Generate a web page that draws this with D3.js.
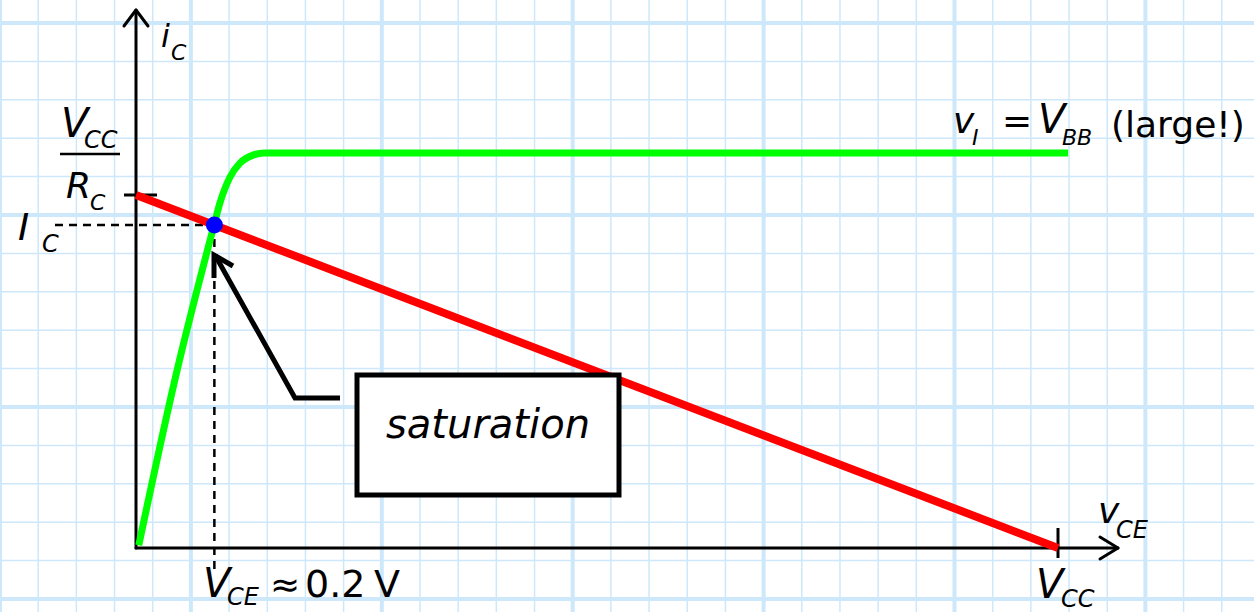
<!doctype html>
<html lang="en">
<head>
  <meta charset="utf-8">
  <title>Saturation on the load line</title>
  <style>
  body { margin: 0; background: #fff; }
  svg { display: block; }
  text {
    font-family: "Comic Sans MS", "DejaVu Sans", "Noto Sans", sans-serif;
    fill: #000;
  }
  .it { font-style: italic; }
  </style>
</head>
<body>
<div id="chart"></div>
<script src="https://cdn.jsdelivr.net/npm/d3@7"></script>
<script>

// ---------------- data (vCE in units of VCC, iC in units of VCC/RC)
var loadV = [0, 1];
var loadI = [1, 0];
var curveV = [0.003, 0.045, 0.085, 0.091, 0.102, 0.113, 0.127, 0.139, 1.011];
var curveI = [0.008, 0.508, 0.918, 0.977, 1.051, 1.091, 1.113, 1.119, 1.119];
var qV = 0.085;
var qI = 0.915;

// ---------------- svg
var width = 1254, height = 612;
var svg = d3.select("#chart").append("svg")
    .attr("width", width)
    .attr("height", height);

var x = d3.scaleLinear().domain([0, 1]).range([136, 1058]);
var y = d3.scaleLinear().domain([0, 1]).range([548, 195]);

// ---------------- graph paper
var grid = svg.append("g").attr("stroke", "#cde8fb");
var cx = 38.18, cy = 38.4, gy0 = 23;
d3.range(0, 34).forEach(function(k) {
  grid.append("line")
    .attr("x1", k * cx).attr("x2", k * cx)
    .attr("y1", 0).attr("y2", height)
    .attr("stroke-width", k % 5 == 0 ? 4 : 1.5);
});
d3.range(-1, 16).forEach(function(k) {
  grid.append("line")
    .attr("x1", 0).attr("x2", width)
    .attr("y1", gy0 + k * cy).attr("y2", gy0 + k * cy)
    .attr("stroke-width", (k + 5) % 5 == 0 ? 4 : 1.5);
});

// ---------------- axes
var ax = svg.append("g").attr("stroke", "#000").attr("fill", "none")
    .attr("stroke-width", 3).attr("stroke-linecap", "round").attr("stroke-linejoin", "round");
ax.append("path").attr("d", "M" + x(0) + "," + y(0) + "V10");
ax.append("path").attr("d", "M" + (x(0) - 12) + ",26L" + x(0) + ",10L" + (x(0) + 12) + ",26");
ax.append("path").attr("d", "M" + x(0) + "," + y(0) + "H1118");
ax.append("path").attr("d", "M1100,537L1118," + y(0) + "L1100,559");
// ticks
ax.append("path").attr("d", "M124," + y(1) + "H157").attr("stroke-linecap", "butt");
ax.append("path").attr("d", "M" + x(1) + ",528V558").attr("stroke-linecap", "butt");

// ---------------- dashed projections of the Q point
var dash = svg.append("g").attr("stroke", "#000").attr("stroke-width", 2.5)
    .attr("stroke-dasharray", "8,6");
dash.append("line").attr("x1", 55).attr("x2", x(qV)).attr("y1", y(qI)).attr("y2", y(qI));
dash.append("line").attr("x1", x(qV)).attr("x2", x(qV)).attr("y1", y(qI)).attr("y2", 572);

// ---------------- transistor curve and load line
var line = d3.line()
    .x(function(d) { return x(d[0]); })
    .y(function(d) { return y(d[1]); });

svg.append("path")
  .datum(d3.zip(curveV, curveI))
  .attr("d", line.curve(d3.curveMonotoneX))
  .attr("fill", "none").attr("stroke", "#00ff00").attr("stroke-width", 7);

svg.append("path")
  .datum(d3.zip(loadV, loadI))
  .attr("d", line.curve(d3.curveLinear))
  .attr("fill", "none").attr("stroke", "#ff0000").attr("stroke-width", 8);

svg.append("circle")
  .attr("cx", x(qV)).attr("cy", y(qI)).attr("r", 8.5)
  .attr("fill", "#0000ff");

// ---------------- callout
var call = svg.append("g").attr("stroke", "#000").attr("fill", "none")
    .attr("stroke-width", 5).attr("stroke-linejoin", "miter");
call.append("path").attr("d", "M340,398H295L215,255");
call.append("path").attr("d", "M214,278V255L233,266");
svg.append("rect")
  .attr("x", 357).attr("y", 375).attr("width", 262).attr("height", 120)
  .attr("fill", "#fff").attr("stroke", "#000").attr("stroke-width", 5);
svg.append("text").attr("class", "it")
  .attr("x", 488).attr("y", 438).attr("text-anchor", "middle")
  .attr("font-size", 40).text("saturation");

// ---------------- labels
function label(parts) {
  var t = svg.append("text");
  parts.forEach(function(p) {
    t.append("tspan")
      .attr("x", p[0]).attr("y", p[1])
      .attr("font-size", p[2])
      .attr("class", p[4] ? "it" : null)
      .text(p[3]);
  });
  return t;
}

label([[161, 47, 32, "i", 1], [171, 60, 22, "C", 1]]);
label([[61, 137, 40, "V", 1], [84, 148, 24, "CC", 1]]);
svg.append("line").attr("x1", 60).attr("x2", 120).attr("y1", 154).attr("y2", 154)
  .attr("stroke", "#000").attr("stroke-width", 2.5);
label([[66, 198, 36, "R", 1], [90, 210, 22, "C", 1]]);
label([[18, 240, 38, "I", 1], [42, 252, 24, "C", 1]]);

label([[953, 133, 36, "v", 1], [972, 145, 22, "I", 1],
       [1002, 133, 36, "=", 0], [1038, 133, 40, "V", 1], [1062, 145, 22, "BB", 1],
       [1111, 137, 36, "(large!)", 0]]);

label([[203, 597, 40, "V", 1], [227, 605, 24, "CE", 1],
       [270, 597, 36, "\u2248", 0], [305, 597, 38, "0.2", 0], [374, 597, 38, "V", 0]]);

label([[1036, 598, 40, "V", 1], [1061, 607, 24, "CC", 1]]);
label([[1098, 523, 36, "v", 1], [1116, 538, 24, "CE", 1]]);

</script>
</body>
</html>
